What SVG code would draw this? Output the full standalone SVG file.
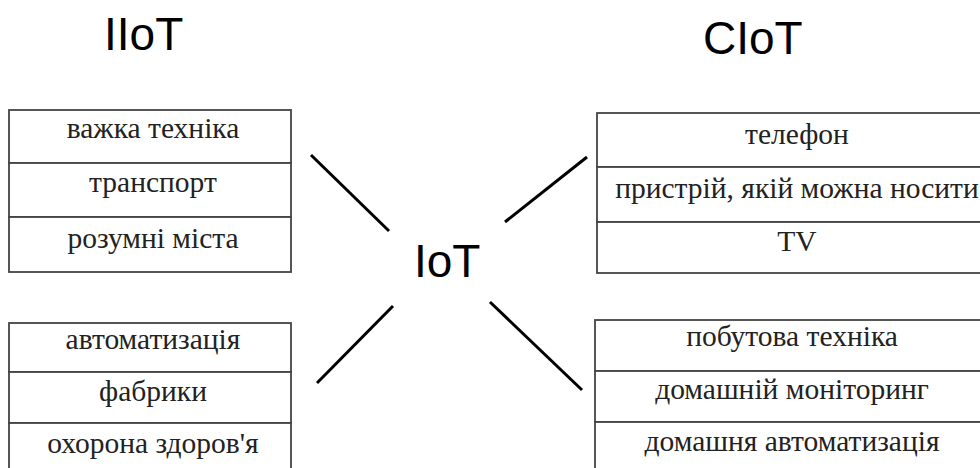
<svg xmlns="http://www.w3.org/2000/svg" width="980" height="468" viewBox="0 0 980 468">
  <style>
    .title { font-family: "Liberation Sans", Arial, sans-serif; font-size: 46px; fill: #000; }
    .cell { fill: #fff; stroke: #444; stroke-width: 1.8; }
    .item { font-family: "Liberation Serif", "Times New Roman", serif; font-size: 29.5px; fill: #222; text-anchor: middle; }
    .link { stroke: #000; stroke-width: 3; stroke-linecap: butt; }
  </style>

  <g id="title-iiot"><text class="title" x="104" y="50">IIoT</text></g>
  <g id="title-ciot"><text class="title" x="703" y="54">CIoT</text></g>
  <g id="hub-iot"><text class="title" x="414" y="277">IoT</text></g>

  <g id="connectors">
    <line class="link" x1="311" y1="155" x2="389" y2="231"/>
    <line class="link" x1="505" y1="222" x2="587" y2="157"/>
    <line class="link" x1="317" y1="383" x2="393" y2="306"/>
    <line class="link" x1="490" y1="302" x2="582" y2="390"/>
  </g>

  <g id="iiot-upper">
    <rect class="cell" x="9" y="110" width="282" height="53"/>
    <rect class="cell" x="9" y="163" width="282" height="54"/>
    <rect class="cell" x="9" y="217" width="282" height="55"/>
    <text class="item" x="153" y="138">важка техніка</text>
    <text class="item" x="153" y="192">транспорт</text>
    <text class="item" x="153" y="248">розумні міста</text>
  </g>

  <g id="iiot-lower">
    <rect class="cell" x="9" y="323" width="282" height="49"/>
    <rect class="cell" x="9" y="372" width="282" height="51"/>
    <rect class="cell" x="9" y="423" width="282" height="60"/>
    <text class="item" x="153" y="349">автоматизація</text>
    <text class="item" x="153" y="401">фабрики</text>
    <text class="item" x="153" y="453">охорона здоров'я</text>
  </g>

  <g id="ciot-upper">
    <rect class="cell" x="597" y="113" width="400" height="54"/>
    <rect class="cell" x="597" y="167" width="400" height="55"/>
    <rect class="cell" x="597" y="222" width="400" height="51"/>
    <text class="item" x="797" y="144">телефон</text>
    <text class="item" x="797" y="198">пристрій, якій можна носити</text>
    <text class="item" x="797" y="251">TV</text>
  </g>

  <g id="ciot-lower">
    <rect class="cell" x="595" y="320" width="400" height="51"/>
    <rect class="cell" x="595" y="371" width="400" height="51"/>
    <rect class="cell" x="595" y="422" width="400" height="60"/>
    <text class="item" x="792" y="346">побутова техніка</text>
    <text class="item" x="792" y="399">домашній моніторинг</text>
    <text class="item" x="792" y="451">домашня автоматизація</text>
  </g>
</svg>
